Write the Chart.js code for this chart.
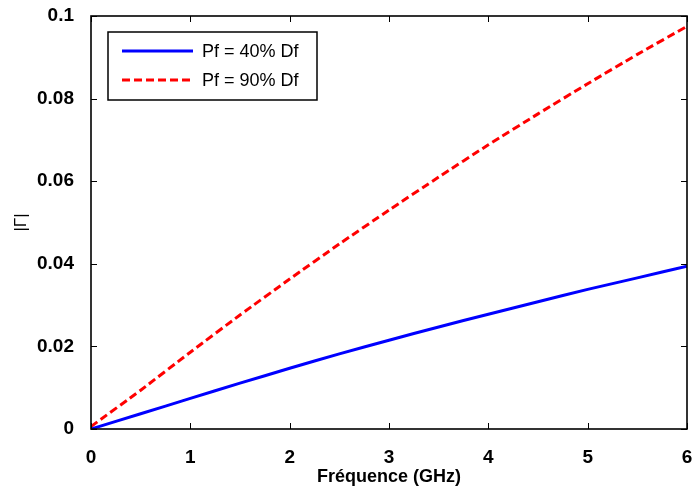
<!DOCTYPE html>
<html>
<head>
<meta charset="utf-8">
<script src="https://cdn.jsdelivr.net/npm/chart.js"></script>
<style>
  html, body { margin: 0; padding: 0; background: #fff; overflow: hidden; }
  #wrap { width: 720px; height: 488px; }
</style>
</head>
<body>
<div id="wrap"><canvas id="chart" width="720" height="488"></canvas></div>
<script>
// données
const freq = [0, 0.5, 1, 1.5, 2, 2.5, 3, 3.5, 4, 4.5, 5, 5.5, 6];
const gamma40 = [0, 0.0037, 0.0074, 0.0111, 0.0147, 0.0182, 0.0215, 0.0247, 0.0278, 0.0308, 0.0338, 0.0366, 0.0394];
const gamma90 = [0.0006, 0.0094, 0.0186, 0.0276, 0.0363, 0.0448, 0.0530, 0.0610, 0.0688, 0.0763, 0.0836, 0.0907, 0.0975];
const xTicks = [0, 1, 2, 3, 4, 5, 6];
const yTicks = [0, 0.02, 0.04, 0.06, 0.08, 0.1];
const labels = ['Pf = 40% Df', 'Pf = 90% Df'];

const toPoints = (ys) => freq.map((f, i) => ({ x: f, y: ys[i] }));

// cadre + graduations vers l'intérieur (style matlab)
const framePlugin = {
    id: 'frame',
    afterDatasetsDraw(chart) {
        const { ctx, chartArea: a, scales } = chart;
        const tl = 6;
        ctx.save();
        ctx.strokeStyle = '#000';
        ctx.lineWidth = 1;
        ctx.beginPath();
        scales.x.ticks.forEach(t => {
            const px = Math.round(scales.x.getPixelForValue(t.value)) + 0.5;
            ctx.moveTo(px, a.bottom); ctx.lineTo(px, a.bottom - tl);
            ctx.moveTo(px, a.top); ctx.lineTo(px, a.top + tl);
        });
        scales.y.ticks.forEach(t => {
            const py = Math.round(scales.y.getPixelForValue(t.value)) + 0.5;
            ctx.moveTo(a.left, py); ctx.lineTo(a.left + tl, py);
            ctx.moveTo(a.right, py); ctx.lineTo(a.right - tl, py);
        });
        ctx.stroke();
        ctx.lineWidth = 1.6;
        ctx.strokeRect(a.left, a.top, a.right - a.left, a.bottom - a.top);
        ctx.restore();
    }
};

// légende encadrée dans le coin haut gauche
const legendBox = {
    id: 'legendBox',
    afterDraw(chart) {
        const { ctx, chartArea: a } = chart;
        const x0 = a.left + 17, y0 = a.top + 16, w = 209, h = 68;
        ctx.save();
        ctx.fillStyle = '#fff';
        ctx.fillRect(x0, y0, w, h);
        ctx.strokeStyle = '#000';
        ctx.lineWidth = 1.5;
        ctx.strokeRect(x0, y0, w, h);
        chart.data.datasets.forEach((ds, i) => {
            const y = y0 + 19 + i * 29;
            ctx.strokeStyle = ds.borderColor;
            ctx.lineWidth = ds.borderWidth;
            ctx.setLineDash(ds.borderDash || []);
            ctx.beginPath();
            ctx.moveTo(x0 + 14, y);
            ctx.lineTo(x0 + 85, y);
            ctx.stroke();
            ctx.setLineDash([]);
            ctx.fillStyle = '#000';
            ctx.font = '18px "Liberation Sans", Arial, sans-serif';
            ctx.textBaseline = 'middle';
            ctx.fillText(ds.label, x0 + 94, y + 1);
        });
        ctx.restore();
    }
};

new Chart(document.getElementById('chart').getContext('2d'), {
    type: 'line',
    data: {
        datasets: [
            {
                label: labels[0],
                data: toPoints(gamma40),
                borderColor: '#0000ff',
                borderWidth: 3,
                pointRadius: 0,
                tension: 0.2,
                fill: false,
            },
            {
                label: labels[1],
                data: toPoints(gamma90),
                borderColor: '#ff0000',
                borderWidth: 3,
                borderDash: [8, 4],
                pointRadius: 0,
                tension: 0.2,
                fill: false,
            },
        ],
    },
    options: {
        responsive: false,
        animation: false,
        layout: { padding: { left: 0, top: 16, right: 33, bottom: 0 } },
        plugins: {
            legend: { display: false },
            tooltip: { enabled: false },
        },
        scales: {
            x: {
                type: 'linear',
                min: 0,
                max: 6,
                afterBuildTicks: (s) => { s.ticks = xTicks.map(v => ({ value: v })); },
                afterFit: (s) => { s.height = 59; s.paddingLeft = 0; s.paddingRight = 0; },
                grid: { display: false },
                border: { display: false },
                ticks: {
                    padding: 9,
                    color: '#000',
                    font: { family: '"Liberation Sans", Arial, sans-serif', size: 19, weight: 'bold' },
                    callback: (v) => String(v),
                },
                title: {
                    display: true,
                    text: 'Fréquence (GHz)',
                    color: '#000',
                    padding: { top: 2, bottom: 0 },
                    font: { family: '"Liberation Sans", Arial, sans-serif', size: 18, weight: 'bold' },
                },
            },
            y: {
                type: 'linear',
                min: 0,
                max: 0.1,
                afterBuildTicks: (s) => { s.ticks = yTicks.map(v => ({ value: v })); },
                afterFit: (s) => { s.width = 91; s.paddingTop = 0; s.paddingBottom = 0; },
                grid: { display: false },
                border: { display: false },
                ticks: {
                    padding: 9,
                    color: '#000',
                    font: { family: '"Liberation Sans", Arial, sans-serif', size: 19, weight: 'bold' },
                    callback: (v) => String(v),
                },
                title: {
                    display: true,
                    text: '|Γ|',
                    color: '#000',
                    padding: { top: 11, bottom: 0 },
                    font: { family: '"Liberation Sans", Arial, sans-serif', size: 17, weight: 'normal' },
                },
            },
        },
    },
    plugins: [framePlugin, legendBox],
});
</script>
</body>
</html>
